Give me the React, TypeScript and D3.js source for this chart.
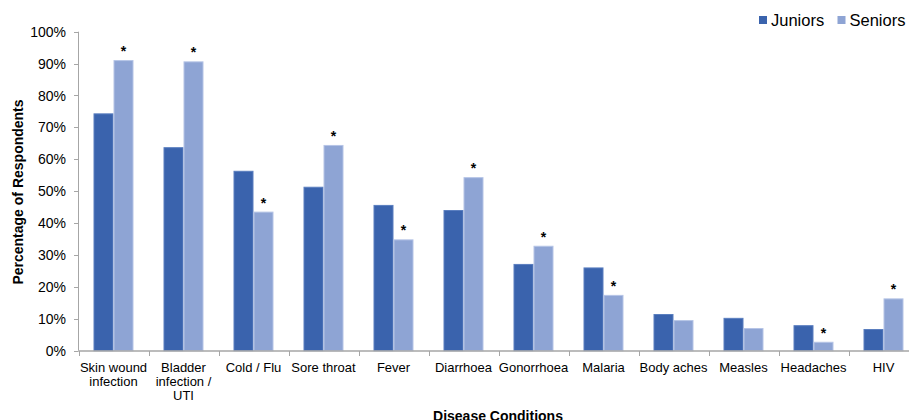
import React from "react";
import * as d3 from "d3";

const categories = [
  ["Skin wound", "infection"],
  ["Bladder", "infection /", "UTI"],
  ["Cold / Flu"],
  ["Sore throat"],
  ["Fever"],
  ["Diarrhoea"],
  ["Gonorrhoea"],
  ["Malaria"],
  ["Body aches"],
  ["Measles"],
  ["Headaches"],
  ["HIV"],
];
const seriesNames = ["Juniors", "Seniors"];
const juniors = [74.4, 63.8, 56.4, 51.4, 45.7, 44.1, 27.2, 26.1, 11.5, 10.3, 8.0, 6.8];
const seniors = [91.1, 90.7, 43.6, 64.5, 34.9, 54.4, 32.9, 17.5, 9.6, 7.1, 2.8, 16.4];
const significant = [true, true, true, true, true, true, true, true, false, false, true, true];
const yTicks = [0, 10, 20, 30, 40, 50, 60, 70, 80, 90, 100];

const W = 909;
const H = 420;
const FONT = "Arial, 'Liberation Sans', Helvetica, sans-serif";
const colors = ["#3A63AD", "#8EA4D4"];
const borders = ["#5A7EBF", "#B5C4E6"];
const axisColor = "#A6A6A6";

export default function App() {
  const keys = categories.map((c) => c.join(" "));
  const x = d3.scaleBand<string>().domain(keys).range([78.5, 918.5]).padding(0);
  const inner = d3.scaleBand<string>().domain(seriesNames).range([15, 55]).padding(0);
  const y = d3.scaleLinear().domain([0, 100]).range([350.7, 31.7]);
  const values = [juniors, seniors];

  return (
    <svg
      width={W}
      height={H}
      style={{ position: "absolute", left: 0, top: 0, display: "block", overflow: "hidden" }}
      fontFamily={FONT}
    >
      <rect x={0} y={0} width={W} height={H} fill="#fff" />
      {/* bars */}
      {keys.map((k, i) => (
        <g key={k}>
          {seriesNames.map((s, si) => {
            const v = values[si][i];
            const bx = (x(k) as number) + (inner(s) as number);
            const by = y(v);
            return (
              <rect
                key={s}
                x={bx + 0.5}
                y={by + 0.5}
                width={inner.bandwidth() - 1}
                height={y(0) - by - 0.5}
                fill={colors[si]}
                stroke={borders[si]}
                strokeWidth={1}
              />
            );
          })}
          {significant[i] && (
            <text
              x={(x(k) as number) + (inner("Seniors") as number) + inner.bandwidth() / 2}
              y={y(seniors[i]) - 4}
              textAnchor="middle"
              fontSize={14}
              fontWeight="bold"
              fill="#000"
            >
              *
            </text>
          )}
        </g>
      ))}
      {/* y axis */}
      <line x1={78.5} x2={78.5} y1={y(100)} y2={y(0)} stroke={axisColor} strokeWidth={1} />
      {yTicks.map((t) => (
        <g key={t}>
          <line x1={74} x2={78.5} y1={Math.round(y(t)) + 0.5} y2={Math.round(y(t)) + 0.5} stroke={axisColor} />
          <text x={66} y={y(t) + 5} textAnchor="end" fontSize={14} fill="#000">
            {t}%
          </text>
        </g>
      ))}
      {/* x axis */}
      <line x1={78.5} x2={W} y1={351} y2={351} stroke={axisColor} strokeWidth={1.5} />
      {keys.map((k) => (
        <line
          key={"t" + k}
          x1={Math.round(x(k) as number) + 0.5}
          x2={Math.round(x(k) as number) + 0.5}
          y1={351}
          y2={356}
          stroke={axisColor}
        />
      ))}
      {categories.map((lines, i) => (
        <text
          key={"l" + i}
          x={(x(keys[i]) as number) + x.bandwidth() / 2}
          y={371.5}
          textAnchor="middle"
          fontSize={13}
          fill="#000"
        >
          {lines.map((ln, li) => (
            <tspan key={li} x={(x(keys[i]) as number) + x.bandwidth() / 2} dy={li === 0 ? 0 : 14.3}>
              {ln}
            </tspan>
          ))}
        </text>
      ))}
      {/* axis titles */}
      <text
        transform={`translate(23,192) rotate(-90)`}
        textAnchor="middle"
        fontSize={14}
        fontWeight="bold"
        fill="#000"
      >
        Percentage of Respondents
      </text>
      <text x={498} y={421} textAnchor="middle" fontSize={14} fontWeight="bold" fill="#000">
        Disease Conditions
      </text>
      {/* legend */}
      {seriesNames.map((s, si) => {
        const lx = si === 0 ? 759 : 837.5;
        return (
          <g key={"lg" + s}>
            <rect x={lx} y={16} width={8} height={8} fill={colors[si]} />
            <text x={lx + 12} y={26} fontSize={16.5} fill="#000">
              {s}
            </text>
          </g>
        );
      })}
    </svg>
  );
}
